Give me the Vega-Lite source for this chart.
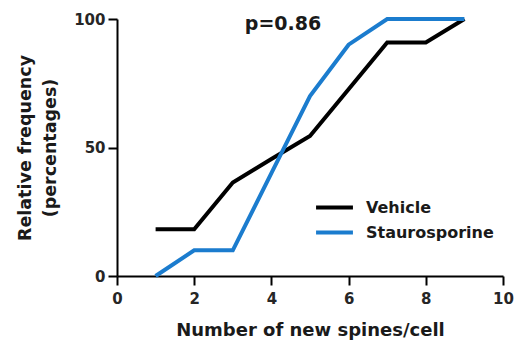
{
  "$schema": "https://vega.github.io/schema/vega-lite/v6.json",
  "width": 386,
  "height": 257,
  "autosize": {"type": "none"},
  "padding": {"left": 117, "top": 19, "right": 14, "bottom": 71},
  "background": "white",
  "config": {
    "view": {"stroke": null},
    "font": "DejaVu Sans"
  },
  "layer": [
    {
      "data": {
        "values": [
          {"spines": 1, "freq": 18.2, "group": "Vehicle"},
          {"spines": 2, "freq": 18.2, "group": "Vehicle"},
          {"spines": 3, "freq": 36.4, "group": "Vehicle"},
          {"spines": 4, "freq": 45.5, "group": "Vehicle"},
          {"spines": 5, "freq": 54.5, "group": "Vehicle"},
          {"spines": 6, "freq": 72.7, "group": "Vehicle"},
          {"spines": 7, "freq": 90.9, "group": "Vehicle"},
          {"spines": 8, "freq": 90.9, "group": "Vehicle"},
          {"spines": 9, "freq": 100, "group": "Vehicle"},
          {"spines": 1, "freq": 0, "group": "Staurosporine"},
          {"spines": 2, "freq": 10, "group": "Staurosporine"},
          {"spines": 3, "freq": 10, "group": "Staurosporine"},
          {"spines": 4, "freq": 40, "group": "Staurosporine"},
          {"spines": 5, "freq": 70, "group": "Staurosporine"},
          {"spines": 6, "freq": 90, "group": "Staurosporine"},
          {"spines": 7, "freq": 100, "group": "Staurosporine"},
          {"spines": 8, "freq": 100, "group": "Staurosporine"},
          {"spines": 9, "freq": 100, "group": "Staurosporine"}
        ]
      },
      "mark": {"type": "line", "strokeWidth": 4, "strokeJoin": "miter", "clip": false},
      "encoding": {
        "x": {
          "field": "spines", "type": "quantitative",
          "scale": {"domain": [0, 10], "nice": false, "zero": false},
          "axis": {
            "title": "Number of new spines/cell",
            "values": [0, 2, 4, 6, 8, 10],
            "grid": false,
            "domainColor": "black", "domainWidth": 2,
            "tickColor": "black", "tickWidth": 2, "tickSize": 9,
            "labelFont": "DejaVu Sans", "labelFontSize": 15, "labelFontWeight": "bold", "labelColor": "#262626",
            "labelPadding": 6, "labelFlush": false,
            "titleFont": "DejaVu Sans", "titleFontSize": 18, "titleFontWeight": "bold", "titleColor": "#1a1a1a",
            "titlePadding": 15
          }
        },
        "y": {
          "field": "freq", "type": "quantitative",
          "scale": {"domain": [0, 100], "nice": false},
          "axis": {
            "title": ["Relative frequency", "(percentages)"],
            "values": [0, 50, 100],
            "grid": false,
            "domainColor": "black", "domainWidth": 2,
            "tickColor": "black", "tickWidth": 2, "tickSize": 9,
            "labelFont": "DejaVu Sans", "labelFontSize": 15, "labelFontWeight": "bold", "labelColor": "#262626",
            "labelPadding": 3, "labelFlush": false,
            "titleFont": "DejaVu Sans", "titleFontSize": 17.5, "titleFontWeight": "bold", "titleColor": "#1a1a1a",
            "titlePadding": 14, "titleLineHeight": 25
          }
        },
        "color": {
          "field": "group", "type": "nominal",
          "scale": {"domain": ["Vehicle", "Staurosporine"], "range": ["#000000", "#1b7cce"]},
          "legend": {
            "title": null,
            "orient": "none",
            "legendX": 206,
            "legendY": 177,
            "symbolType": "M-2,0H2",
            "symbolSize": 340,
            "symbolStrokeWidth": 4,
            "symbolFillColor": "transparent",
            "labelFont": "DejaVu Sans",
            "labelFontSize": 16,
            "labelFontWeight": "bold",
            "labelColor": "#1a1a1a",
            "rowPadding": 5,
            "labelOffset": 20
          }
        }
      }
    },
    {
      "data": {"values": [{"x": 4.3, "y": 98, "label": "p=0.86"}]},
      "mark": {"type": "text", "fontSize": 19, "fontWeight": "bold", "font": "DejaVu Sans", "color": "#1a1a1a", "baseline": "middle", "align": "center", "clip": false},
      "encoding": {
        "x": {"field": "x", "type": "quantitative"},
        "y": {"field": "y", "type": "quantitative"},
        "text": {"field": "label"}
      }
    }
  ]
}
